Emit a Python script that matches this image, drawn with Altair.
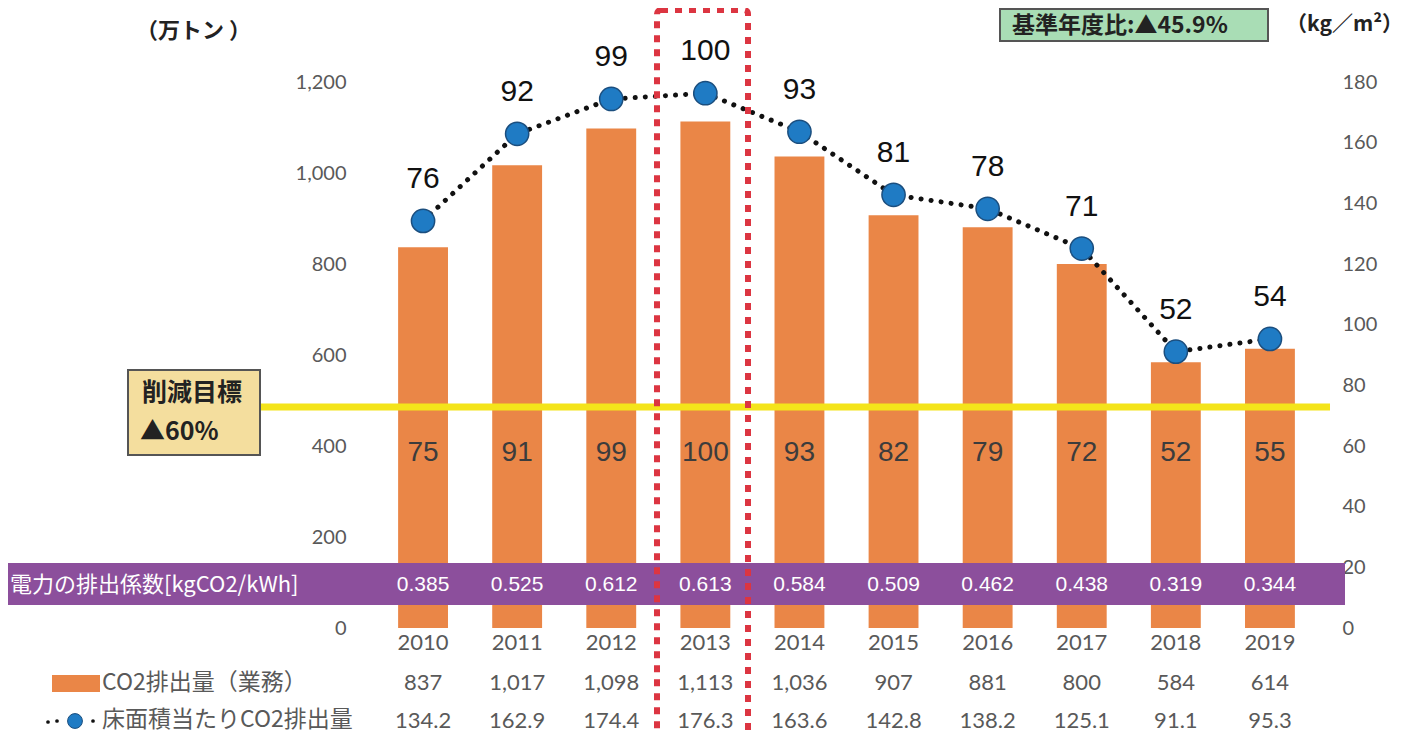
import altair as alt
import pandas as pd

years = ["2010", "2011", "2012", "2013", "2014", "2015", "2016", "2017", "2018", "2019"]
co2 = [837, 1017, 1098, 1113, 1036, 907, 881, 800, 584, 614]
per_area = [134.2, 162.9, 174.4, 176.3, 163.6, 142.8, 138.2, 125.1, 91.1, 95.3]
bar_index = [75, 91, 99, 100, 93, 82, 79, 72, 52, 55]
point_index = [76, 92, 99, 100, 93, 81, 78, 71, 52, 54]
coef = ["0.385", "0.525", "0.612", "0.613", "0.584", "0.509", "0.462", "0.438", "0.319", "0.344"]
left_ticks = [0, 200, 400, 600, 800, 1000, 1200]
right_ticks = [0, 20, 40, 60, 80, 100, 120, 140, 160, 180]

df = pd.DataFrame({
    "year": years, "co2": co2, "per_area": per_area,
    "bar_index": bar_index, "point_index": point_index, "coef": coef,
})
df["co2_txt"] = [f"{v:,}" for v in co2]
df["area_txt"] = [f"{v:.1f}" for v in per_area]

one = pd.DataFrame({"k": [0]})

ORANGE = "#EA8647"
PURPLE = "#8C4F9C"
GRAY = "#595959"
JP = "Noto Sans CJK JP"
NUM = "Lato"
ARIAL = "Liberation Sans"

xenc = alt.X("year:O", axis=None, sort=years,
             scale=alt.Scale(paddingInner=0.47, paddingOuter=0.235))

bars = alt.Chart(df).mark_bar(color=ORANGE).encode(
    x=xenc,
    y=alt.Y("co2:Q", scale=alt.Scale(domain=[0, 1200], nice=False),
            axis=alt.Axis(values=left_ticks, format=",.0f",
                          labelFontSize=20, labelColor=GRAY, labelFont=NUM,
                          domain=False, ticks=False, grid=False, labelPadding=30,
                          title=None)),
)

yellow = alt.Chart(one).mark_rule(color="#F4E41A", strokeWidth=7).encode(
    x=alt.value(-116), x2=alt.value(954), y=alt.value(325))

bar_lbl = alt.Chart(df).mark_text(font=ARIAL, fontSize=28, color="#3c3c3c").encode(
    x=xenc, y=alt.value(371), text="bar_index:N")

band = alt.Chart(one).mark_rect(color=PURPLE).encode(
    x=alt.value(-376), x2=alt.value(969), y=alt.value(481), y2=alt.value(523))

band_title = alt.Chart(one).mark_text(
    text="電力の排出係数[kgCO2/kWh]", font=JP, fontSize=22, color="white", align="left"
).encode(x=alt.value(-366), y=alt.value(503))

band_vals = alt.Chart(df).mark_text(font=ARIAL, fontSize=21, color="white").encode(
    x=xenc, y=alt.value(503), text="coef:N")

yright = alt.Y("per_area:Q", scale=alt.Scale(domain=[0, 180], nice=False),
               axis=alt.Axis(orient="right", values=right_ticks,
                             labelFontSize=20, labelColor=GRAY, labelFont=NUM,
                             domain=False, ticks=False, grid=False, labelPadding=25,
                             title=None))

line = alt.Chart(df).mark_line(color="#111111", strokeWidth=5, strokeDash=[0.1, 10],
                               strokeCap="round").encode(x=xenc, y=yright)
pts = alt.Chart(df).mark_point(filled=True, size=540, color="#1F7BC4", opacity=1,
                               stroke="#1B4E7E", strokeWidth=1.5).encode(x=xenc, y=yright)
pt_lbl = alt.Chart(df).mark_text(font=ARIAL, fontSize=30, color="#111111", dy=-42).encode(
    x=xenc, y=yright, text="point_index:N")

right = alt.layer(line, pts, pt_lbl)

tbl_year = alt.Chart(df).mark_text(font=NUM, fontSize=22, color=GRAY).encode(
    x=xenc, y=alt.value(561), text="year:N")
tbl_co2 = alt.Chart(df).mark_text(font=NUM, fontSize=22, color=GRAY).encode(
    x=xenc, y=alt.value(601), text="co2_txt:N")
tbl_area = alt.Chart(df).mark_text(font=NUM, fontSize=22, color=GRAY).encode(
    x=xenc, y=alt.value(639), text="area_txt:N")

leg_rect = alt.Chart(one).mark_rect(color=ORANGE).encode(
    x=alt.value(-324), x2=alt.value(-276), y=alt.value(593), y2=alt.value(610))
leg_t1 = alt.Chart(one).mark_text(text="CO2排出量（業務）", font=JP, fontSize=23,
                                  color=GRAY, align="left").encode(
    x=alt.value(-274), y=alt.value(601))
leg_dot1 = alt.Chart(one).mark_point(filled=True, size=14, color="#111111", opacity=1).encode(
    x=alt.value(-328), y=alt.value(640))
leg_dot2 = alt.Chart(one).mark_point(filled=True, size=14, color="#111111", opacity=1).encode(
    x=alt.value(-319), y=alt.value(639))
leg_dot3 = alt.Chart(one).mark_point(filled=True, size=14, color="#111111", opacity=1).encode(
    x=alt.value(-283), y=alt.value(639))
leg_circ = alt.Chart(one).mark_point(filled=True, size=220, color="#1F7BC4", opacity=1,
                                     stroke="#1B4E7E", strokeWidth=1).encode(
    x=alt.value(-301), y=alt.value(639))
leg_t2 = alt.Chart(one).mark_text(text="床面積当たりCO2排出量", font=JP, fontSize=23,
                                  color=GRAY, align="left").encode(
    x=alt.value(-274), y=alt.value(638))

target_box = alt.Chart(one).mark_rect(fill="#F4DE9E", stroke="#555555", strokeWidth=2).encode(
    x=alt.value(-248), x2=alt.value(-116), y=alt.value(288), y2=alt.value(373))
target_t1 = alt.Chart(one).mark_text(text="削減目標", font=JP, fontSize=25, fontWeight="bold",
                                     color="#222222", align="left").encode(
    x=alt.value(-234), y=alt.value(311))
target_t2 = alt.Chart(one).mark_text(text="▲60%", font=JP, fontSize=25, fontWeight="bold",
                                     color="#222222", align="left").encode(
    x=alt.value(-236), y=alt.value(350))

ratio_box = alt.Chart(one).mark_rect(fill="#A9DDB5", stroke="#555555", strokeWidth=2).encode(
    x=alt.value(624), x2=alt.value(892), y=alt.value(-73), y2=alt.value(-41))
ratio_t = alt.Chart(one).mark_text(text="基準年度比:▲45.9%", font=JP, fontSize=23,
                                   fontWeight="bold", color="#222222", align="left").encode(
    x=alt.value(636), y=alt.value(-56))

title_l = alt.Chart(one).mark_text(text="（万トン ）", font=JP, fontSize=22, fontWeight="bold",
                                   color="#222222", align="left").encode(
    x=alt.value(-240), y=alt.value(-51))
title_r = alt.Chart(one).mark_text(text="（kg／m²）", font=JP, fontSize=21, fontWeight="bold",
                                   color="#222222", align="left").encode(
    x=alt.value(910), y=alt.value(-57))

red_box = alt.Chart(one).mark_rect(fillOpacity=0, stroke="#DC3541", strokeWidth=6,
                                   strokeDash=[7, 7], cornerRadius=4).encode(
    x=alt.value(281), x2=alt.value(372), y=alt.value(-72), y2=alt.value(656))

left = alt.layer(bars, yellow, bar_lbl, band, band_title, band_vals)

chart = alt.layer(
    left, right,
    tbl_year, tbl_co2, tbl_area,
    leg_rect, leg_t1, leg_dot1, leg_dot2, leg_dot3, leg_circ, leg_t2,
    target_box, target_t1, target_t2,
    ratio_box, ratio_t, title_l, title_r, red_box,
).resolve_scale(y="independent").properties(
    width=941, height=546, background="white",
    autosize=alt.AutoSizeParams(type="none"),
    padding={"left": 368, "top": 74, "right": 102, "bottom": 106},
).configure_view(stroke=None, strokeWidth=0)

chart.save("out.html", embed_options={"renderer": "svg", "actions": False})
